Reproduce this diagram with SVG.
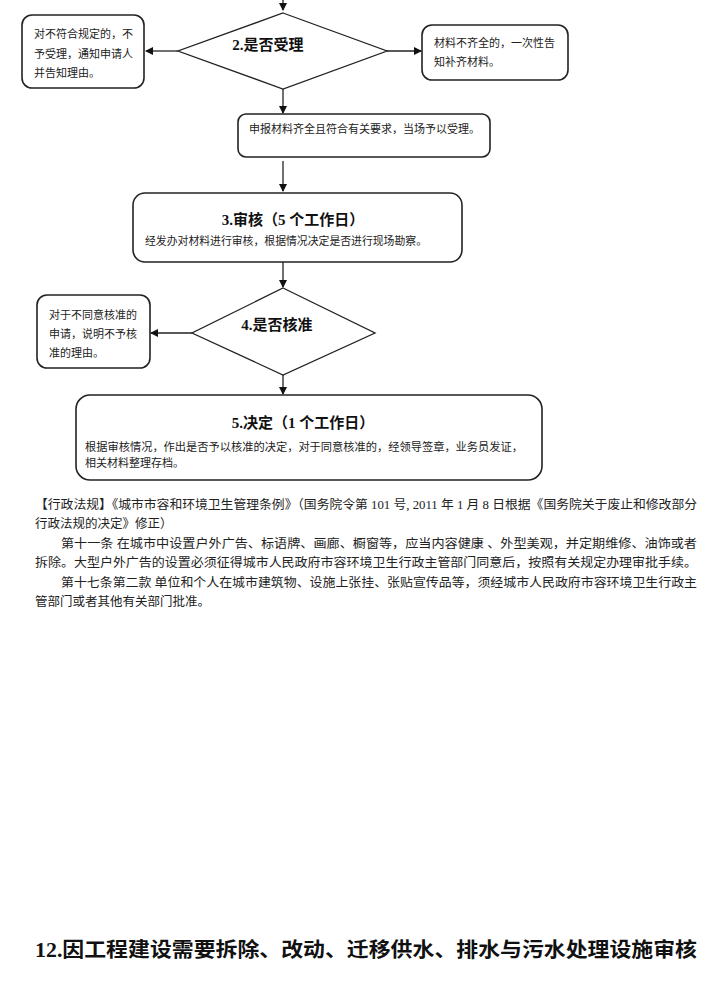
<svg xmlns="http://www.w3.org/2000/svg" width="722" height="982" viewBox="0 0 722 982">
<style>
.box{fill:#fff;stroke:#222;stroke-width:1.6}
.dia{fill:#fff;stroke:#222;stroke-width:1.3}
.ln{stroke:#222;stroke-width:1.3;fill:none;marker-end:url(#ah)}
.t{font-family:"Liberation Serif","Noto Sans CJK SC",serif;font-size:11px;fill:#222}
.h{font-family:"Liberation Serif","Noto Sans CJK SC",serif;font-size:15px;font-weight:bold;fill:#111}
.p{font-family:"Liberation Serif","Noto Sans CJK SC",serif;font-size:12.5px;fill:#222}
.ti{font-family:"Liberation Serif","Noto Sans CJK SC",serif;font-size:20px;font-weight:bold;fill:#111}
</style>
<defs>
<marker id="ah" markerWidth="8" markerHeight="8" refX="7" refY="4" orient="auto" markerUnits="userSpaceOnUse">
<path d="M0,0 L8,4 L0,8 Z" fill="#111"/>
</marker>
</defs>
<rect width="722" height="982" fill="#fff"/>
<g id="connectors">
<line class="ln" x1="283" y1="0" x2="283" y2="10"/>
<line class="ln" x1="178" y1="51" x2="146" y2="51"/>
<line class="ln" x1="387" y1="51" x2="421" y2="51"/>
<line class="ln" x1="283" y1="89" x2="283" y2="113"/>
<line class="ln" x1="283" y1="161" x2="283" y2="191"/>
<line class="ln" x1="283" y1="262" x2="283" y2="287"/>
<line class="ln" x1="192" y1="333" x2="151" y2="333"/>
<line class="ln" x1="283" y1="375" x2="283" y2="394"/>
</g>
<g id="n_decide2">
<polygon class="dia" points="283,13 387,51 283,89 178,51"/>
<text class="h" x="268" y="50" text-anchor="middle">2.是否受理</text>
</g>
<g id="n_reject2">
<rect class="box" x="22" y="15" width="122" height="73" rx="10"/>
<text class="t" x="34" y="38">对不符合规定的，不</text>
<text class="t" x="34" y="58">予受理，通知申请人</text>
<text class="t" x="34" y="77">并告知理由。</text>
</g>
<g id="n_supp">
<rect class="box" x="422" y="25" width="146" height="55" rx="10"/>
<text class="t" x="434" y="47">材料不齐全的，一次性告</text>
<text class="t" x="434" y="66">知补齐材料。</text>
</g>
<g id="n_accept">
<rect class="box" x="238" y="114" width="252" height="43" rx="8"/>
<text class="t" x="249" y="133" textLength="231" lengthAdjust="spacingAndGlyphs">申报材料齐全且符合有关要求，当场予以受理。</text>
</g>
<g id="n_review">
<rect class="box" x="133" y="193" width="329" height="69" rx="12"/>
<text class="h" x="293" y="225" text-anchor="middle">3.审核（5 个工作日）</text>
<text class="t" x="145" y="245" textLength="282" lengthAdjust="spacingAndGlyphs">经发办对材料进行审核，根据情况决定是否进行现场勘察。</text>
</g>
<g id="n_decide4">
<polygon class="dia" points="283,288 375,333 283,375 192,333"/>
<text class="h" x="277" y="330" text-anchor="middle">4.是否核准</text>
</g>
<g id="n_reject4">
<rect class="box" x="37" y="295" width="113" height="73" rx="10"/>
<text class="t" x="49" y="319">对于不同意核准的</text>
<text class="t" x="49" y="338">申请，说明不予核</text>
<text class="t" x="49" y="357">准的理由。</text>
</g>
<g id="n_decision5">
<rect class="box" x="76" y="395" width="466" height="85" rx="14"/>
<text class="h" x="303" y="428" text-anchor="middle">5.决定（1 个工作日）</text>
<text class="t" x="85" y="451" textLength="438" lengthAdjust="spacingAndGlyphs">根据审核情况，作出是否予以核准的决定，对于同意核准的，经领导签章，业务员发证，</text>
<text class="t" x="85" y="467">相关材料整理存档。</text>
</g>
<g id="law">
<text class="p" x="35" y="509" textLength="662" lengthAdjust="spacingAndGlyphs">【行政法规】《城市市容和环境卫生管理条例》（国务院令第 101 号, 2011 年 1 月 8 日根据《国务院关于废止和修改部分</text>
<text class="p" x="35" y="528">行政法规的决定》修正）</text>
<text class="p" x="61" y="548" textLength="636" lengthAdjust="spacingAndGlyphs">第十一条 在城市中设置户外广告、标语牌、画廊、橱窗等，应当内容健康 、外型美观，并定期维修、油饰或者</text>
<text class="p" x="35" y="567" textLength="662" lengthAdjust="spacingAndGlyphs">拆除。大型户外广告的设置必须征得城市人民政府市容环境卫生行政主管部门同意后，按照有关规定办理审批手续。</text>
<text class="p" x="61" y="587" textLength="636" lengthAdjust="spacingAndGlyphs">第十七条第二款 单位和个人在城市建筑物、设施上张挂、张贴宣传品等，须经城市人民政府市容环境卫生行政主</text>
<text class="p" x="35" y="606">管部门或者其他有关部门批准。</text>
</g>
<g id="title">
<text class="ti" x="35" y="957" textLength="662" lengthAdjust="spacingAndGlyphs">12.因工程建设需要拆除、改动、迁移供水、排水与污水处理设施审核</text>
</g>
</svg>
